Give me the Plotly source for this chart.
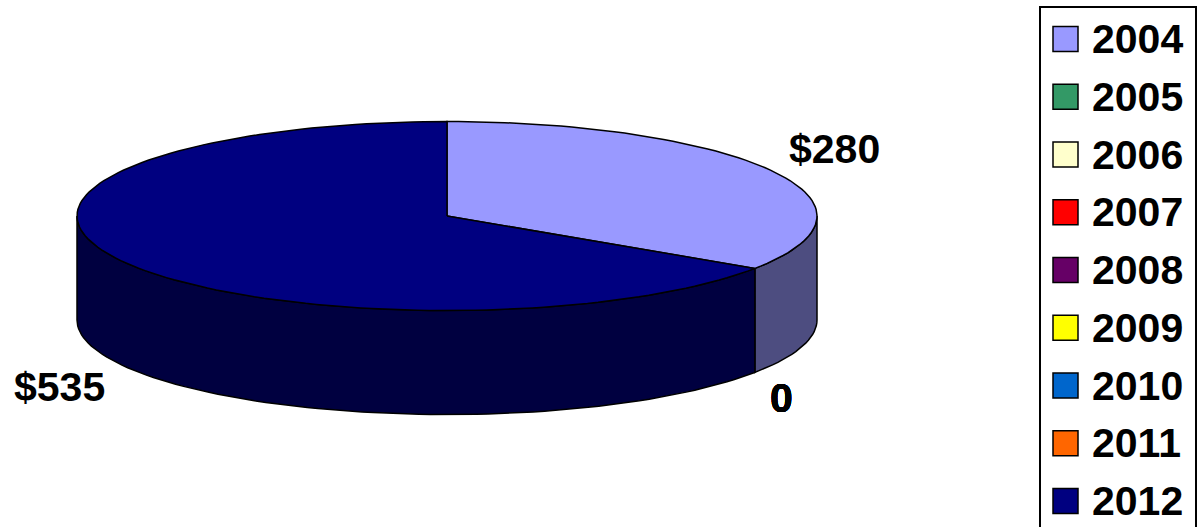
import numpy as np
import plotly.graph_objects as go

# ---- data ----
years = ["2004", "2005", "2006", "2007", "2008", "2009", "2010", "2011", "2012"]
values = [280, 0, 0, 0, 0, 0, 0, 0, 535]
top_colors = ["#9999FF", "#339966", "#FFFFCC", "#FF0000", "#660066",
              "#FFFF00", "#0066CC", "#FF6600", "#000080"]
side_colors = ["#4D4D80", "#1A4D33", "#808066", "#800000", "#330033",
               "#808000", "#003366", "#803300", "#000040"]

# ---- style / geometry (page pixel space) ----
W, H = 1202, 527
CX, CY = 447, 216
A, B = 370, 94.5
DEPTH = 104
FONT = dict(family="Liberation Sans, Arial, sans-serif", size=41, color="black", weight="bold")
EDGE = dict(color="black", width=1.5)


def arc(p0, p1, dy=0.0, n=200):
    t = np.linspace(p0, p1, max(2, int(n * abs(p1 - p0) / (2 * np.pi)) + 2))
    return CX + A * np.sin(t), CY - B * np.cos(t) + dy


total = float(sum(values))
bounds = np.concatenate([[0], np.cumsum(values)]) / total * 2 * np.pi

fig = go.Figure()

# side walls (front half: phi in [pi/2, 3pi/2])
for i, v in enumerate(values):
    if v == 0:
        continue
    p0, p1 = bounds[i], bounds[i + 1]
    lo, hi = max(p0, np.pi / 2), min(p1, 3 * np.pi / 2)
    if hi <= lo:
        continue
    xt, yt = arc(lo, hi)
    xb, yb = arc(lo, hi, DEPTH)
    xs = np.concatenate([xt, xb[::-1], xt[:1]])
    ys = np.concatenate([yt, yb[::-1], yt[:1]])
    fig.add_trace(go.Scatter(x=xs, y=ys, fill="toself", fillcolor=side_colors[i],
                             mode="lines", line=EDGE, hoverinfo="skip", showlegend=False))

# top faces
for i, v in enumerate(values):
    if v == 0:
        continue
    xa, ya = arc(bounds[i], bounds[i + 1])
    xs = np.concatenate([[CX], xa, [CX]])
    ys = np.concatenate([[CY], ya, [CY]])
    fig.add_trace(go.Scatter(x=xs, y=ys, fill="toself", fillcolor=top_colors[i],
                             mode="lines", line=EDGE, name=years[i],
                             hovertemplate=f"{years[i]}: ${v}<extra></extra>", showlegend=False))

# data labels
for i, v in enumerate(values):
    pm = (bounds[i] + bounds[i + 1]) / 2
    s, c = np.sin(pm), np.cos(pm)
    x = CX + (A + 16) * s
    y = CY - (B + 47) * c + (DEPTH if c < 0 else 0)
    fig.add_annotation(x=x, y=y, text=(f"${v}" if v else "0"), showarrow=False,
                       xanchor="left" if s >= 0 else "right", yanchor="middle", font=FONT)

# legend (manual)
LEG_X0, LEG_X1, LEG_Y0 = 1040, 1196, 7
ROW0, ROW_H, SQ = 39, 57.75, 25
fig.add_shape(type="rect", x0=LEG_X0, x1=LEG_X1, y0=LEG_Y0, y1=H + 20,
              line=dict(color="black", width=2), fillcolor="white", layer="below")
for i, yr in enumerate(years):
    yc = ROW0 + i * ROW_H
    fig.add_shape(type="rect", x0=1053, x1=1053 + SQ, y0=yc - SQ / 2, y1=yc + SQ / 2,
                  line=dict(color="black", width=1.5), fillcolor=top_colors[i])
    fig.add_annotation(x=1090, y=yc, text=yr, showarrow=False, xanchor="left",
                       yanchor="middle", font=FONT)

fig.update_layout(
    width=W, height=H, margin=dict(l=0, r=0, t=0, b=0),
    paper_bgcolor="white", plot_bgcolor="white",
    xaxis=dict(range=[0, W], visible=False, fixedrange=True),
    yaxis=dict(range=[H, 0], visible=False, fixedrange=True),
    showlegend=False,
)

fig.write_html(
    "out.html",
    config={"displayModeBar": False},
    post_script="document.body.style.margin='0';document.body.style.overflow='hidden';",
)
